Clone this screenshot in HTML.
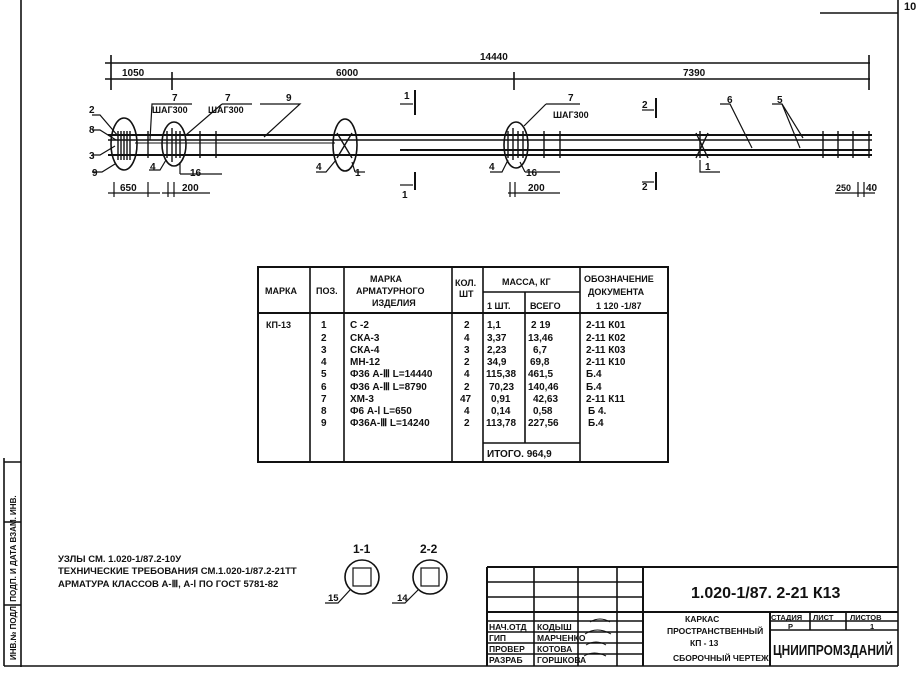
<!DOCTYPE html>
<html><head><meta charset="utf-8"><style>
html,body{margin:0;padding:0;background:#fff}
svg{display:block}
text{font-family:"Liberation Sans",sans-serif;font-weight:bold;fill:#111}
</style></head><body>
<svg width="921" height="674" viewBox="0 0 921 674" xmlns="http://www.w3.org/2000/svg">
<g stroke="#111" fill="none" stroke-width="1.6">
<line x1="21" y1="0" x2="21" y2="667"/>
<line x1="21" y1="666" x2="898" y2="666"/>
<line x1="898" y1="13" x2="898" y2="666"/>
<line x1="820" y1="13" x2="898" y2="13"/>
<line x1="898" y1="0" x2="898" y2="13"/>
<line x1="4" y1="458" x2="4" y2="666"/>
<line x1="4" y1="462" x2="21" y2="462"/>
<line x1="4" y1="522" x2="21" y2="522"/>
<line x1="4" y1="605" x2="21" y2="605"/>
<line x1="4" y1="666" x2="21" y2="666"/>
<line x1="105" y1="63" x2="870" y2="63"/>
<line x1="105" y1="79" x2="870" y2="79"/>
<line x1="111" y1="55" x2="111" y2="90"/>
<line x1="172" y1="72" x2="172" y2="90"/>
<line x1="514" y1="72" x2="514" y2="90"/>
<line x1="869" y1="55" x2="869" y2="90"/>
<line x1="108" y1="135" x2="872" y2="135" stroke-width="2"/>
<line x1="108" y1="140" x2="872" y2="140"/>
<line x1="400" y1="150" x2="872" y2="150" stroke-width="2"/>
<line x1="108" y1="155" x2="872" y2="155" stroke-width="2"/>
<line x1="135" y1="143" x2="335" y2="143" stroke-width="1"/>
<g stroke-width="1.4">
<line x1="118" y1="131" x2="118" y2="160"/><line x1="121" y1="131" x2="121" y2="160"/><line x1="124" y1="131" x2="124" y2="160"/><line x1="127" y1="131" x2="127" y2="160"/><line x1="130" y1="131" x2="130" y2="160"/>
<line x1="148" y1="131" x2="148" y2="158"/>
<line x1="167" y1="131" x2="167" y2="158"/><line x1="172" y1="128" x2="172" y2="162"/><line x1="176" y1="131" x2="176" y2="158"/><line x1="180" y1="131" x2="180" y2="158"/>
<line x1="200" y1="131" x2="200" y2="158"/><line x1="216" y1="131" x2="216" y2="158"/>
<line x1="508" y1="131" x2="508" y2="158"/><line x1="513" y1="128" x2="513" y2="160"/><line x1="518" y1="131" x2="518" y2="158"/><line x1="523" y1="131" x2="523" y2="158"/>
<line x1="544" y1="131" x2="544" y2="158"/><line x1="560" y1="131" x2="560" y2="158"/>
<line x1="700" y1="131" x2="700" y2="158"/>
<line x1="823" y1="131" x2="823" y2="158"/><line x1="838" y1="131" x2="838" y2="158"/><line x1="853" y1="131" x2="853" y2="158"/><line x1="869" y1="131" x2="869" y2="158"/>
<line x1="337" y1="133" x2="352" y2="158"/><line x1="352" y1="133" x2="337" y2="158"/>
<line x1="696" y1="133" x2="708" y2="158"/><line x1="708" y1="133" x2="696" y2="158"/>
</g>
<ellipse cx="124" cy="144" rx="13" ry="26"/>
<ellipse cx="174" cy="144" rx="12" ry="22"/>
<ellipse cx="345" cy="145" rx="12" ry="26"/>
<ellipse cx="516" cy="145" rx="12" ry="23"/>
<g stroke-width="1.2">
<polyline points="92,115 100,115 118,136"/>
<polyline points="92,130 100,130 116,140"/>
<polyline points="92,155 100,155 115,146"/>
<polyline points="92,172 102,172 115,164"/>
<polyline points="192,104 152,104 150,140"/>
<polyline points="222,104 252,104"/><polyline points="222,104 186,135"/>
<polyline points="260,104 300,104 264,137"/>
<polyline points="149,170 160,170 166,160"/>
<polyline points="180,174 222,174"/><polyline points="180,174 180,162"/>
<polyline points="316,172 326,172 336,160"/>
<polyline points="355,172 365,172"/><polyline points="355,172 352,162"/>
<polyline points="546,104 580,104"/><polyline points="546,104 524,126"/>
<polyline points="490,172 502,172 508,160"/>
<polyline points="525,172 560,172"/><polyline points="525,172 520,162"/>
<polyline points="720,104 730,104 752,148"/>
<polyline points="772,104 782,104 800,148"/><polyline points="782,104 803,138"/>
<polyline points="700,160 700,172 720,172"/>
<line x1="415" y1="90" x2="415" y2="115" stroke-width="2"/><line x1="400" y1="104" x2="413" y2="104"/>
<line x1="415" y1="172" x2="415" y2="190" stroke-width="2"/><line x1="400" y1="185" x2="413" y2="185"/>
<line x1="656" y1="98" x2="656" y2="118" stroke-width="2"/><line x1="642" y1="110" x2="654" y2="110"/>
<line x1="656" y1="172" x2="656" y2="190" stroke-width="2"/><line x1="642" y1="182" x2="654" y2="182"/>
<line x1="108" y1="193" x2="160" y2="193"/><line x1="114" y1="182" x2="114" y2="197"/><line x1="148" y1="182" x2="148" y2="197"/>
<line x1="162" y1="193" x2="210" y2="193"/><line x1="168" y1="182" x2="168" y2="197"/><line x1="174" y1="182" x2="174" y2="197"/>
<line x1="508" y1="193" x2="560" y2="193"/><line x1="510" y1="182" x2="510" y2="197"/><line x1="515" y1="182" x2="515" y2="197"/>
<line x1="835" y1="193" x2="875" y2="193"/><line x1="858" y1="182" x2="858" y2="197"/><line x1="864" y1="182" x2="864" y2="197"/>
</g>
<rect x="258" y="267" width="410" height="195" stroke-width="2"/>
<line x1="258" y1="313" x2="668" y2="313" stroke-width="2"/>
<line x1="310" y1="267" x2="310" y2="462"/><line x1="344" y1="267" x2="344" y2="462"/>
<line x1="452" y1="267" x2="452" y2="462"/><line x1="483" y1="267" x2="483" y2="462"/>
<line x1="525" y1="292" x2="525" y2="443"/><line x1="580" y1="267" x2="580" y2="462"/>
<line x1="483" y1="292" x2="580" y2="292"/><line x1="483" y1="443" x2="580" y2="443"/>
<line x1="487" y1="567" x2="898" y2="567" stroke-width="2"/>
<line x1="487" y1="567" x2="487" y2="666" stroke-width="2"/>
<line x1="534" y1="567" x2="534" y2="666"/><line x1="578" y1="567" x2="578" y2="666"/>
<line x1="617" y1="567" x2="617" y2="666"/><line x1="643" y1="567" x2="643" y2="666" stroke-width="2"/>
<line x1="487" y1="582" x2="643" y2="582"/><line x1="487" y1="597" x2="643" y2="597"/>
<line x1="487" y1="612" x2="898" y2="612" stroke-width="2"/>
<line x1="487" y1="621" x2="643" y2="621"/><line x1="487" y1="632" x2="643" y2="632"/>
<line x1="487" y1="643" x2="643" y2="643"/><line x1="487" y1="654" x2="643" y2="654"/>
<line x1="770" y1="612" x2="770" y2="666" stroke-width="2"/>
<line x1="770" y1="621" x2="898" y2="621"/><line x1="770" y1="630" x2="898" y2="630"/>
<line x1="810" y1="612" x2="810" y2="630"/><line x1="846" y1="612" x2="846" y2="630"/>
<circle cx="362" cy="577" r="17"/><rect x="353" y="568" width="18" height="18" stroke-width="1.2"/>
<circle cx="430" cy="577" r="17"/><rect x="421" y="568" width="18" height="18" stroke-width="1.2"/>
<polyline points="325,603 338,603 350,590" stroke-width="1.2"/>
<polyline points="392,603 405,603 418,590" stroke-width="1.2"/>
<g stroke-width="1"><path d="M590 622 q10 -6 20 0 M585 634 q12 -8 26 0 M586 645 q10 -6 20 0 M584 656 q10 -6 22 0"/></g>
</g>
<g font-size="10">
<text x="904" y="10" font-size="11">10</text>
<text x="480" y="60">14440</text>
<text x="122" y="76">1050</text>
<text x="336" y="76">6000</text>
<text x="683" y="76">7390</text>
<text x="172" y="101">7</text><text x="225" y="101">7</text><text x="286" y="101">9</text><text x="568" y="101">7</text>
<text x="152" y="113" font-size="9">ШАГ300</text><text x="208" y="113" font-size="9">ШАГ300</text><text x="553" y="118" font-size="9">ШАГ300</text>
<text x="89" y="113">2</text><text x="89" y="133">8</text><text x="89" y="159">3</text><text x="92" y="176">9</text>
<text x="150" y="170">4</text><text x="190" y="176">16</text>
<text x="316" y="170">4</text><text x="355" y="176">1</text>
<text x="489" y="170">4</text><text x="526" y="176">16</text>
<text x="727" y="103">6</text><text x="777" y="103">5</text><text x="705" y="170">1</text>
<text x="404" y="99">1</text><text x="402" y="198">1</text>
<text x="642" y="108">2</text><text x="642" y="190">2</text>
<text x="120" y="191">650</text><text x="182" y="191">200</text><text x="528" y="191">200</text>
<text x="836" y="191" font-size="9">250</text><text x="866" y="191">40</text>
</g>
<g font-size="9">
<text x="265" y="294">МАРКА</text><text x="316" y="294">ПОЗ.</text>
<text x="370" y="282">МАРКА</text><text x="356" y="294">АРМАТУРНОГО</text><text x="372" y="306">ИЗДЕЛИЯ</text>
<text x="455" y="286">КОЛ.</text><text x="459" y="297">ШТ</text>
<text x="502" y="285">МАССА, КГ</text><text x="487" y="309">1 ШТ.</text><text x="530" y="309">ВСЕГО</text>
<text x="584" y="282">ОБОЗНАЧЕНИЕ</text><text x="588" y="295">ДОКУМЕНТА</text><text x="596" y="309">1 120 -1/87</text>
<text x="266" y="328">КП-13</text>
</g>
<g font-size="10">
<text x="321" y="328">1</text><text x="321" y="341">2</text><text x="321" y="353">3</text><text x="321" y="365">4</text><text x="321" y="377">5</text><text x="321" y="390">6</text><text x="321" y="402">7</text><text x="321" y="414">8</text><text x="321" y="426">9</text>
<text x="350" y="328">С -2</text><text x="350" y="341">СКА-3</text><text x="350" y="353">СКА-4</text><text x="350" y="365">МН-12</text><text x="350" y="377">Ф36 А-Ⅲ L=14440</text><text x="350" y="390">Ф36 А-Ⅲ L=8790</text><text x="350" y="402">ХМ-3</text><text x="350" y="414">Ф6 А-Ⅰ L=650</text><text x="350" y="426">Ф36А-Ⅲ L=14240</text>
<text x="464" y="328">2</text><text x="464" y="341">4</text><text x="464" y="353">3</text><text x="464" y="365">2</text><text x="464" y="377">4</text><text x="464" y="390">2</text><text x="460" y="402">47</text><text x="464" y="414">4</text><text x="464" y="426">2</text>
<text x="487" y="328">1,1</text><text x="487" y="341">3,37</text><text x="487" y="353">2,23</text><text x="487" y="365">34,9</text><text x="486" y="377">115,38</text><text x="489" y="390">70,23</text><text x="491" y="402">0,91</text><text x="491" y="414">0,14</text><text x="486" y="426">113,78</text>
<text x="531" y="328">2 19</text><text x="528" y="341">13,46</text><text x="533" y="353">6,7</text><text x="530" y="365">69,8</text><text x="528" y="377">461,5</text><text x="528" y="390">140,46</text><text x="533" y="402">42,63</text><text x="533" y="414">0,58</text><text x="528" y="426">227,56</text>
<text x="487" y="457">ИТОГО.  964,9</text>
<text x="586" y="328">2-11   К01</text><text x="586" y="341">2-11   К02</text><text x="586" y="353">2-11   К03</text><text x="586" y="365">2-11   К10</text><text x="586" y="377">Б.4</text><text x="586" y="390">Б.4</text><text x="586" y="402">2-11   К11</text><text x="588" y="414">Б 4.</text><text x="588" y="426">Б.4</text>
</g>
<g font-size="9.5">
<text x="58" y="562">УЗЛЫ СМ. 1.020-1/87.2-10У</text>
<text x="58" y="574">ТЕХНИЧЕСКИЕ ТРЕБОВАНИЯ СМ.1.020-1/87.2-21ТТ</text>
<text x="58" y="587">АРМАТУРА КЛАССОВ А-Ⅲ, А-Ⅰ ПО ГОСТ 5781-82</text>
<text x="353" y="553" font-size="12">1-1</text><text x="420" y="553" font-size="12">2-2</text>
<text x="328" y="601">15</text><text x="397" y="601">14</text>
</g>
<g font-size="8.5">
<text x="691" y="598" font-size="16" font-weight="normal">1.020-1/87. 2-21  К13</text>
<text x="685" y="622">КАРКАС</text><text x="667" y="634">ПРОСТРАНСТВЕННЫЙ</text><text x="690" y="646">КП - 13</text><text x="673" y="661">СБОРОЧНЫЙ ЧЕРТЕЖ</text>
<text x="771" y="620" font-size="7.5">СТАДИЯ</text><text x="813" y="620" font-size="7.5">ЛИСТ</text><text x="850" y="620" font-size="7.5">ЛИСТОВ</text>
<text x="788" y="629" font-size="7.5">Р</text><text x="870" y="629" font-size="7.5">1</text>
<text x="773" y="655" font-size="15" font-weight="normal" textLength="120" lengthAdjust="spacingAndGlyphs">ЦНИИПРОМЗДАНИЙ</text>
<text x="489" y="630">НАЧ.ОТД</text><text x="537" y="630">КОДЫШ</text>
<text x="489" y="641">ГИП</text><text x="537" y="641">МАРЧЕНКО</text>
<text x="489" y="652">ПРОВЕР</text><text x="537" y="652">КОТОВА</text>
<text x="489" y="663">РАЗРАБ</text><text x="537" y="663">ГОРШКОВА</text>
</g>
<g font-size="8">
<text transform="translate(16,660) rotate(-90)">ИНВ.№ ПОДЛ.  ПОДП. И ДАТА  ВЗАМ. ИНВ.</text>
</g>
</svg>
</body></html>
